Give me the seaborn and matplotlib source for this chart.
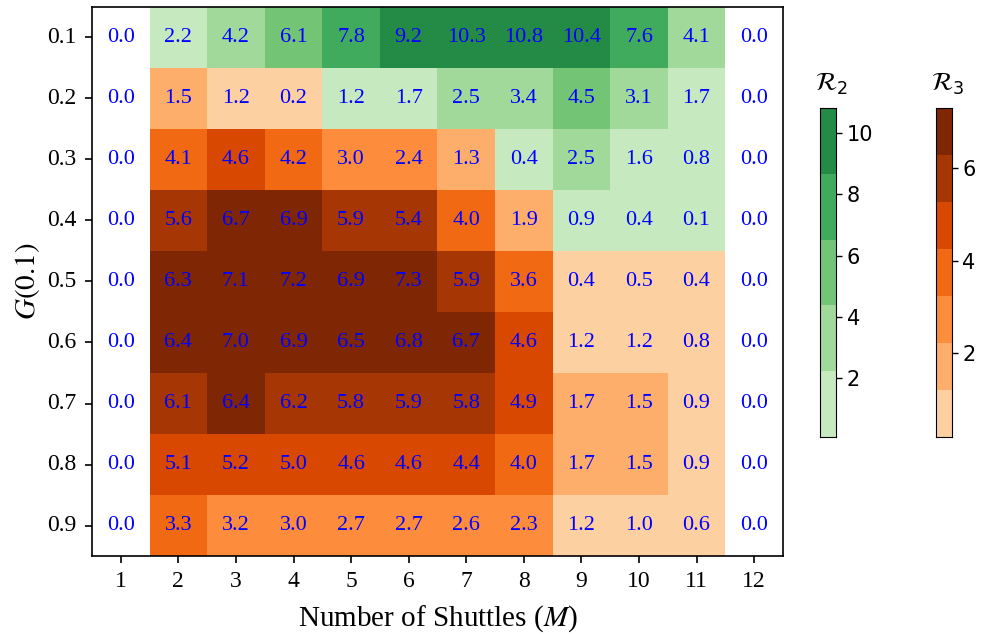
import numpy as np
import pandas as pd
import matplotlib
matplotlib.use("Agg")
import matplotlib.pyplot as plt
from matplotlib.colors import ListedColormap
import seaborn as sns

# data
g_levels = ["0.1", "0.2", "0.3", "0.4", "0.5", "0.6", "0.7", "0.8", "0.9"]
shuttles = [1, 2, 3, 4, 5, 6, 7, 8, 9, 10, 11, 12]

values = [
    [0.0, 2.2, 4.2, 6.1, 7.8, 9.2, 10.3, 10.8, 10.4, 7.6, 4.1, 0.0],
    [0.0, 1.5, 1.2, 0.2, 1.2, 1.7, 2.5, 3.4, 4.5, 3.1, 1.7, 0.0],
    [0.0, 4.1, 4.6, 4.2, 3.0, 2.4, 1.3, 0.4, 2.5, 1.6, 0.8, 0.0],
    [0.0, 5.6, 6.7, 6.9, 5.9, 5.4, 4.0, 1.9, 0.9, 0.4, 0.1, 0.0],
    [0.0, 6.3, 7.1, 7.2, 6.9, 7.3, 5.9, 3.6, 0.4, 0.5, 0.4, 0.0],
    [0.0, 6.4, 7.0, 6.9, 6.5, 6.8, 6.7, 4.6, 1.2, 1.2, 0.8, 0.0],
    [0.0, 6.1, 6.4, 6.2, 5.8, 5.9, 5.8, 4.9, 1.7, 1.5, 0.9, 0.0],
    [0.0, 5.1, 5.2, 5.0, 4.6, 4.6, 4.4, 4.0, 1.7, 1.5, 0.9, 0.0],
    [0.0, 3.3, 3.2, 3.0, 2.7, 2.7, 2.6, 2.3, 1.2, 1.0, 0.6, 0.0],
]

# which metric each cell belongs to: '2' -> R2, '3' -> R3, '-' -> none
region = [
    "-2222222222-",
    "-3332222222-",
    "-3333332222-",
    "-3333333222-",
    "-3333333333-",
    "-3333333333-",
    "-3333333333-",
    "-3333333333-",
    "-3333333333-",
]

df = pd.DataFrame(values, index=g_levels, columns=shuttles)
reg = np.array([list(r) for r in region])

greens = ListedColormap(["#c7e9c0", "#a1d99b", "#74c476", "#41ab5d", "#238b45"])
oranges = ListedColormap(["#fdd0a2", "#fdae6b", "#fd8d3c", "#f16913",
                          "#d94801", "#a63603", "#7f2704"])

plt.rcParams["font.family"] = "serif"
plt.rcParams["font.serif"] = ["Liberation Serif", "DejaVu Serif"]
plt.rcParams["mathtext.fontset"] = "stix"

fig = plt.figure(figsize=(9.87, 6.35), dpi=100)
ax = fig.add_axes([0.0932, 0.1244, 0.7, 0.8646])
cax2 = fig.add_axes([0.831, 0.312, 0.0162, 0.518])
cax3 = fig.add_axes([0.948, 0.312, 0.0162, 0.518])

annot_kws = {"color": "blue", "fontsize": 16, "family": "Liberation Serif"}

sns.heatmap(df, mask=(reg != "2"), cmap=greens, vmin=0.1, vmax=10.8,
            annot=True, fmt=".1f", annot_kws=annot_kws, ax=ax, cbar_ax=cax2)
sns.heatmap(df, mask=(reg != "3"), cmap=oranges, vmin=0.2, vmax=7.3,
            annot=True, fmt=".1f", annot_kws=annot_kws, ax=ax, cbar_ax=cax3)
sns.heatmap(df, mask=(reg != "-"), cmap=ListedColormap(["white"]),
            annot=True, fmt=".1f", annot_kws=annot_kws, ax=ax, cbar=False)

for s in ax.spines.values():
    s.set_visible(True)
    s.set_linewidth(1.2)
ax.set_yticklabels(g_levels, rotation=0, fontsize=17)
ax.set_xticklabels([str(m) for m in shuttles], rotation=0, fontsize=17)
ax.tick_params(length=5, width=1.2, pad=6)
ax.set_xlabel("Number of Shuttles ($M$)", fontsize=21, labelpad=8)
ax.set_ylabel("$G(0.1)$", fontsize=21)

for cax, ticks, lab in [(cax2, [2, 4, 6, 8, 10], r"$\mathcal{R}_2$"),
                        (cax3, [2, 4, 6], r"$\mathcal{R}_3$")]:
    cax.set_yticks(ticks)
    cax.set_yticklabels([str(t) for t in ticks], family="DejaVu Sans", fontsize=15)
    cax.tick_params(length=4, width=1)
    for s in cax.spines.values():
        s.set_visible(True)
    cax.set_title(lab, fontsize=18, math_fontfamily="dejavusans", pad=12, loc="left", x=-0.3)

fig.savefig("out.png", dpi=100)
